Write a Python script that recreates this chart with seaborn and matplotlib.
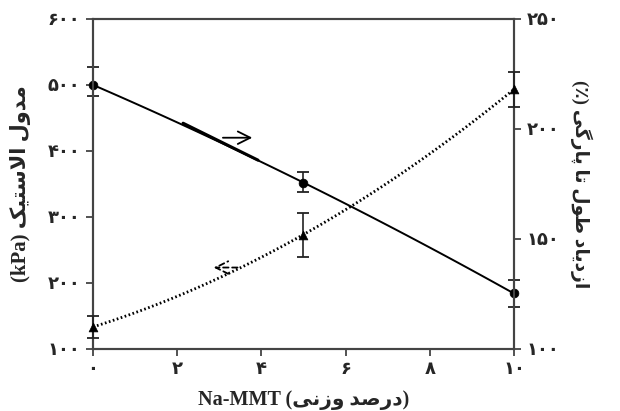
import numpy as np
import pandas as pd
import seaborn as sns
import matplotlib.pyplot as plt
from matplotlib.ticker import FixedLocator, FuncFormatter

# ---------------- data ----------------
nammt = [0, 5, 10]                      # wt% Na-MMT
modulus = [500, 352, 184]               # kPa
modulus_err_low = [17, 14, 20]
modulus_err_high = [27, 16, 20]
elongation = [110, 152, 218]            # %
elongation_err = [5, 10, 8]

x_ticks = [0, 2, 4, 6, 8, 10]
left_ticks = [100, 200, 300, 400, 500, 600]
right_ticks = [100, 150, 200, 250]

# ---------------- persian text helpers ----------------
# (isolated, final, initial, medial) ; right-joining letters only have 2 forms
FORMS = {
    'ا': ('\uFE8D', '\uFE8E'), 'د': ('\uFEA9', '\uFEAA'), 'ر': ('\uFEAD', '\uFEAE'),
    'ز': ('\uFEAF', '\uFEB0'), 'و': ('\uFEED', '\uFEEE'),
    'ط': ('\uFEC1', '\uFEC2', '\uFEC3', '\uFEC4'), 'ل': ('\uFEDD', '\uFEDE', '\uFEDF', '\uFEE0'),
    'م': ('\uFEE1', '\uFEE2', '\uFEE3', '\uFEE4'), 'س': ('\uFEB1', '\uFEB2', '\uFEB3', '\uFEB4'),
    'ت': ('\uFE95', '\uFE96', '\uFE97', '\uFE98'), 'ص': ('\uFEB9', '\uFEBA', '\uFEBB', '\uFEBC'),
    'ن': ('\uFEE5', '\uFEE6', '\uFEE7', '\uFEE8'), 'ی': ('\uFBFC', '\uFBFD', '\uFBFE', '\uFBFF'),
    'ک': ('\uFB8E', '\uFB8F', '\uFB90', '\uFB91'), 'پ': ('\uFB56', '\uFB57', '\uFB58', '\uFB59'),
    'گ': ('\uFB92', '\uFB93', '\uFB94', '\uFB95'),
}


def shape(text):
    """very small persian reshaper + visual reorder (matplotlib has no bidi)."""
    out = []
    i = 0
    while i < len(text):
        c = text[i]
        if c not in FORMS:
            out.append(c)
            i += 1
            continue
        prev = text[i - 1] if i > 0 else ''
        joins_prev = prev in FORMS and len(FORMS[prev]) == 4
        if c == 'ل' and i + 1 < len(text) and text[i + 1] == 'ا':
            out.append('\uFEFC' if joins_prev else '\uFEFB')
            i += 2
            continue
        nxt = text[i + 1] if i + 1 < len(text) else ''
        joins_next = len(FORMS[c]) == 4 and nxt in FORMS
        f = FORMS[c]
        if joins_prev and joins_next:
            out.append(f[3])
        elif joins_prev:
            out.append(f[1])
        elif joins_next:
            out.append(f[2])
        else:
            out.append(f[0])
        i += 1
    return ''.join(out)[::-1]


def fa(n):
    return str(int(n)).translate(str.maketrans('0123456789', '۰۱۲۳۴۵۶۷۸۹'))


# ---------------- plot ----------------
sns.set_style('ticks')
plt.rcParams['font.family'] = ['Liberation Serif', 'DejaVu Sans']
plt.rcParams['font.weight'] = 'bold'

df = pd.DataFrame({'x': nammt, 'modulus': modulus, 'elongation': elongation})

fig = plt.figure(figsize=(6.2, 4.11), dpi=100)
ax = fig.add_axes([0.15, 0.151, 0.679, 0.803])
ax2 = ax.twinx()

# modulus: solid line + circles
sns.regplot(data=df, x='x', y='modulus', order=2, ci=None, scatter=False, ax=ax,
            line_kws=dict(color='black', lw=1.4))
ax.errorbar(nammt, modulus, yerr=[modulus_err_low, modulus_err_high], fmt='none',
            ecolor='#222222', elinewidth=1.2, capsize=4, capthick=1.3, clip_on=False, zorder=5)
sns.scatterplot(data=df, x='x', y='modulus', ax=ax, marker='o', s=40, color='black',
                edgecolor='black', clip_on=False, zorder=6)

# elongation: dotted line + triangles
sns.regplot(data=df, x='x', y='elongation', order=2, ci=None, scatter=False, ax=ax2,
            line_kws=dict(color='black', lw=2.0, ls=(0, (0.6, 0.9))))
ax2.errorbar(nammt, elongation, yerr=elongation_err, fmt='none',
             ecolor='#222222', elinewidth=1.2, capsize=4, capthick=1.3, clip_on=False, zorder=5)
sns.scatterplot(data=df, x='x', y='elongation', ax=ax2, marker='^', s=40, color='black',
                edgecolor='black', clip_on=False, zorder=6)

# axes
ax.set_xlim(0, 10)
ax.set_ylim(100, 600)
ax2.set_ylim(100, 250)
ax.xaxis.set_major_locator(FixedLocator(x_ticks))
ax.yaxis.set_major_locator(FixedLocator(left_ticks))
ax2.yaxis.set_major_locator(FixedLocator(right_ticks))
fmt = FuncFormatter(lambda v, p: fa(v))
ax.xaxis.set_major_formatter(fmt)
ax.yaxis.set_major_formatter(fmt)
ax2.yaxis.set_major_formatter(fmt)
for a in (ax, ax2):
    a.tick_params(direction='out', length=5, width=1.3, color='#444444', labelsize=13, pad=4)
    for s in a.spines.values():
        s.set_visible(True)
        s.set_color('#444444')
        s.set_linewidth(1.5)
    a.set_xlabel('')
    a.set_ylabel('')

ax.set_xlabel('Na-MMT (' + shape('درصد وزنی') + ')', fontsize=14.5, fontweight='bold', labelpad=8)
ax.set_ylabel('(kPa) ' + shape('مدول الاستیک'), fontsize=15, fontweight='bold', labelpad=12)
ax2.set_ylabel('(٪) ' + shape('ازدیاد طول تا پارگی'), fontsize=13.5, fontweight='bold',
               rotation=270, labelpad=24)

# series markers: arrows pointing to the matching axis
ax.plot([2.14, 3.92], [442, 386], color='black', lw=2.2)
ax.annotate('', xy=(3.85, 420), xytext=(3.02, 420),
            arrowprops=dict(arrowstyle='->,head_length=0.9,head_width=0.45', color='black', lw=1.3))
ax2.annotate('', xy=(2.80, 137), xytext=(3.50, 137),
             arrowprops=dict(arrowstyle='->,head_length=0.9,head_width=0.45', color='black',
                             lw=1.3, ls=(0, (3, 2))))

fig.savefig('out.png', dpi=100)
